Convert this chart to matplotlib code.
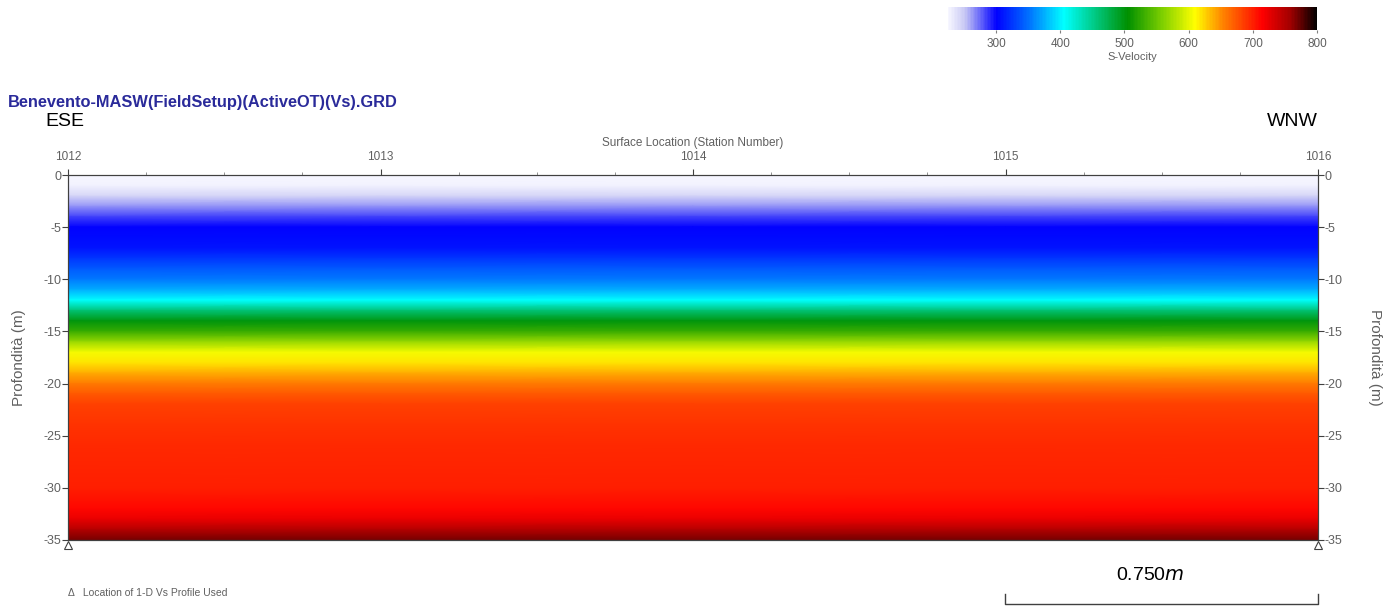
import matplotlib.pyplot as plt
import numpy as np
from matplotlib.colors import LinearSegmentedColormap, Normalize

# stations along the line and the 1-D Vs profile used for every station
stations = [1012, 1013, 1014, 1015, 1016]
depth = [0, -1, -2, -3, -4, -5, -6, -7, -8, -9, -10, -11, -12, -13, -14, -15,
         -16, -17, -18, -19, -20, -21, -22, -24, -26, -28, -30, -32, -33, -34, -35]
vs = [225, 228, 245, 265, 285, 300, 305, 310, 325, 340, 355, 375, 405, 460, 500, 530,
      570, 605, 620, 640, 658, 672, 685, 692, 695, 697, 700, 712, 725, 750, 770]
profile_stations = [1012, 1016]
cbar_ticks = [300, 400, 500, 600, 700, 800]
vmin, vmax = 225, 800

# velocity colour scale
stops = [(225, '#f6f6ff'), (250, '#c8c8f4'), (300, '#0000ff'), (350, '#0070ff'),
         (405, '#00ffff'), (505, '#009000'), (560, '#80d000'), (610, '#ffff00'),
         (655, '#ff8000'), (715, '#ff0000'), (760, '#a00000'), (800, '#000000')]
cmap = LinearSegmentedColormap.from_list(
    'svel', [((v - vmin) / (vmax - vmin), c) for v, c in stops])
norm = Normalize(vmin, vmax)

plt.rcParams['font.family'] = ['Liberation Sans', 'DejaVu Sans']
plt.rcParams['axes.unicode_minus'] = False
grey = '#606060'

fig = plt.figure(figsize=(13.94, 6.07), dpi=100)
ax = fig.add_axes([68 / 1394, 1 - 540 / 607, 1250 / 1394, 365 / 607])

X, Y = np.meshgrid(stations, depth)
Z = np.tile(np.array(vs)[:, None], (1, len(stations)))
ax.pcolormesh(X, Y, Z, cmap=cmap, norm=norm, shading='gouraud')
ax.set_xlim(1012, 1016)
ax.set_ylim(-35, 0)

# station axis on top
ax.xaxis.tick_top()
ax.xaxis.set_label_position('top')
ax.set_xticks(stations)
ax.set_xticks(np.arange(1012, 1016.01, 0.25), minor=True)
ax.tick_params(axis='x', which='major', length=4, labelsize=8.5, labelcolor=grey,
               colors='#404040', pad=5)
ax.tick_params(axis='x', which='minor', length=2, colors='#808080')
ax.set_xlabel('Surface Location (Station Number)', fontsize=8.5, color=grey, labelpad=3)

depth_ticks = list(range(0, -36, -5))
ax.set_yticks(depth_ticks)
ax.tick_params(axis='y', length=4, labelsize=9, labelcolor=grey, colors='#404040', pad=1)
ax.set_ylabel('Profondità (m)', fontsize=11, color=grey, labelpad=12)

# same depth scale repeated on the right
ax2 = ax.twinx()
ax2.set_ylim(-35, 0)
ax2.set_yticks(depth_ticks)
ax2.tick_params(axis='y', length=4, labelsize=9, labelcolor=grey, colors='#404040', pad=1)
ax2.set_ylabel('Profondità (m)', fontsize=11, color=grey, rotation=-90, labelpad=28)
for a in (ax, ax2):
    for s in a.spines.values():
        s.set_color('#404040')
        s.set_linewidth(0.8)

# 1-D profile locations
ax.plot(profile_stations, [-35.45] * len(profile_stations), '^', ms=6, mfc='none',
        mec='#404040', mew=0.8, clip_on=False, zorder=5)

fig.text(8 / 1394, 1 - 103 / 607, 'Benevento-MASW(FieldSetup)(ActiveOT)(Vs).GRD',
         fontsize=11.8, fontweight='bold', color='#2a2a9a', va='center', ha='left')
fig.text(45 / 1394, 1 - 122 / 607, 'ESE', fontsize=14, va='center', ha='left')
fig.text(1318 / 1394, 1 - 122 / 607, 'WNW', fontsize=14, va='center', ha='right')
fig.text(68 / 1394, 1 - 593 / 607, '\u0394   Location of 1-D Vs Profile Used',
         fontsize=7.5, color=grey, va='center', ha='left')

# colour bar
cax = fig.add_axes([948 / 1394, 1 - 30 / 607, 369 / 1394, 23 / 607])
cb = fig.colorbar(plt.cm.ScalarMappable(norm=norm, cmap=cmap), cax=cax,
                  orientation='horizontal', ticks=cbar_ticks)
cb.outline.set_visible(False)
cax.tick_params(length=2, labelsize=8.5, labelcolor=grey, colors='#808080', pad=4)
cb.set_label('S-Velocity', fontsize=8, color=grey, labelpad=1)

# scale bar
fig.text(1150 / 1394, 1 - 575 / 607, '0.750$m$', fontsize=14, va='center', ha='center')
sx = [1005 / 1394, 1005 / 1394, 1318 / 1394, 1318 / 1394]
sy = [1 - 594 / 607, 1 - 604 / 607, 1 - 604 / 607, 1 - 594 / 607]
fig.add_artist(plt.Line2D(sx, sy, color='#404040', lw=1, transform=fig.transFigure))

fig.savefig('out.png', dpi=100)
